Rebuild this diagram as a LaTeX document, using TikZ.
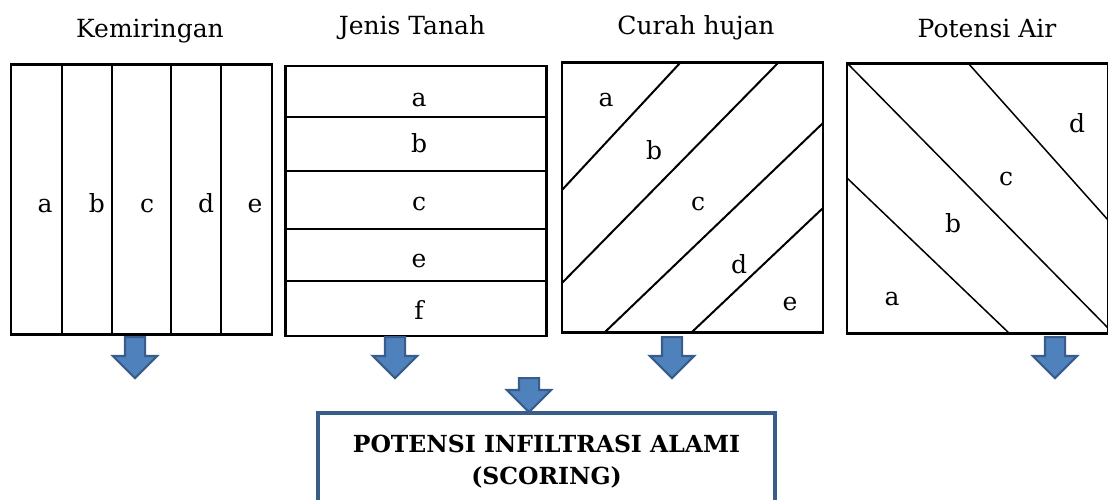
\documentclass[tikz,border=0pt]{standalone}
\usepackage{fontspec}
\setmainfont{DejaVu Serif}
\usetikzlibrary{shapes.arrows, positioning}

\definecolor{arrowfill}{RGB}{79,129,189}
\definecolor{arrowline}{RGB}{56,93,138}

\begin{document}
\begin{tikzpicture}[x=1pt, y=-1pt,
    panel/.style={rectangle, draw, line width=2.2pt, inner sep=0pt, minimum width=261pt, minimum height=270pt},
    part/.style={line width=2pt},
    thinpart/.style={line width=1.5pt},
    title/.style={anchor=base, font=\fontsize{25}{30}\selectfont},
    lbl/.style={anchor=base, font=\fontsize{25}{30}\selectfont, inner sep=1pt},
    blockarrow/.style={single arrow, shape border rotate=270, anchor=tail, fill=arrowfill, draw=arrowline, line width=2.2pt,
        inner sep=9pt, single arrow head extend=12pt, minimum height=#1, single arrow head indent=0pt},
    result/.style={rectangle, draw=arrowline, line width=3.2pt, fill=white, minimum width=457pt, minimum height=97pt,
        align=center, font=\bfseries\fontsize{23.5}{32}\selectfont}
]
    \useasboundingbox (0,0) rectangle (1108,500);

    % Titles
    \node[title] (tslope) at (150,38) {Kemiringan};
    \node[title] (tsoil) at (412,35) {Jenis Tanah};
    \node[title] (train) at (696,35) {Curah hujan};
    \node[title] (twater) at (987,38) {Potensi Air};

    % Panels
    \node[panel] (slope) at (141.5,199.5) {};
    \node[panel] (soil) at (416,201) {};
    \node[panel] (rain) at (692.5,197.5) {};
    \node[panel] (water) at (977.5,198.5) {};

    % Kemiringan: vertical strips
    \foreach \x in {62,112,171,221} {
        \draw[part] (slope.north -| \x,0) -- (slope.south -| \x,0);
    }
    \foreach \x/\t in {45/a, 97/b, 147/c, 206/d, 255/e} {
        \node[lbl] (slope-\t) at (\x,212) {\t};
    }

    % Jenis Tanah: horizontal layers
    \foreach \y in {117,171,229,281} {
        \draw[part] (soil.west |- 0,\y) -- (soil.east |- 0,\y);
    }
    \foreach \y/\t in {107/a, 153/b, 210/c, 267/e, 319/f} {
        \node[lbl] (soil-\t) at (419,\y) {\t};
    }

    % Curah hujan: rising diagonals
    \draw[part] (680,63) -- (562,190);
    \draw[part] (778,63) -- (562,283);
    \draw[part] (823,123) -- (605,332);
    \draw[part] (823,208) -- (692,332);
    \foreach \x/\y/\t in {606/107/a, 654/160/b, 698/210/c, 739/273/d, 790/310/e} {
        \node[lbl] (rain-\t) at (\x,\y) {\t};
    }

    % Potensi Air: falling diagonals
    \draw[thinpart] (847,63) -- (1108,328);
    \draw[thinpart] (968,63) -- (1108,220);
    \draw[thinpart] (847,178) -- (1010,334);
    \foreach \x/\y/\t in {1077/133/d, 1006/185/c, 953/232/b, 892/305/a} {
        \node[lbl] (water-\t) at (\x,\y) {\t};
    }

    % Down arrows under the panels
    \node[blockarrow=41pt] (down1) at (135,336) {};
    \node[blockarrow=41pt] (down2) at (395,336) {};
    \node[blockarrow=41pt] (down3) at (672,336) {};
    \node[blockarrow=41pt] (down4) at (1055,336) {};

    % Result box
    \node[blockarrow=34pt] (down5) at (529,377) {};
    \node[result] (score) at (546.5,461.5) {POTENSI INFILTRASI ALAMI\\(SCORING)};

\end{tikzpicture}
\end{document}
